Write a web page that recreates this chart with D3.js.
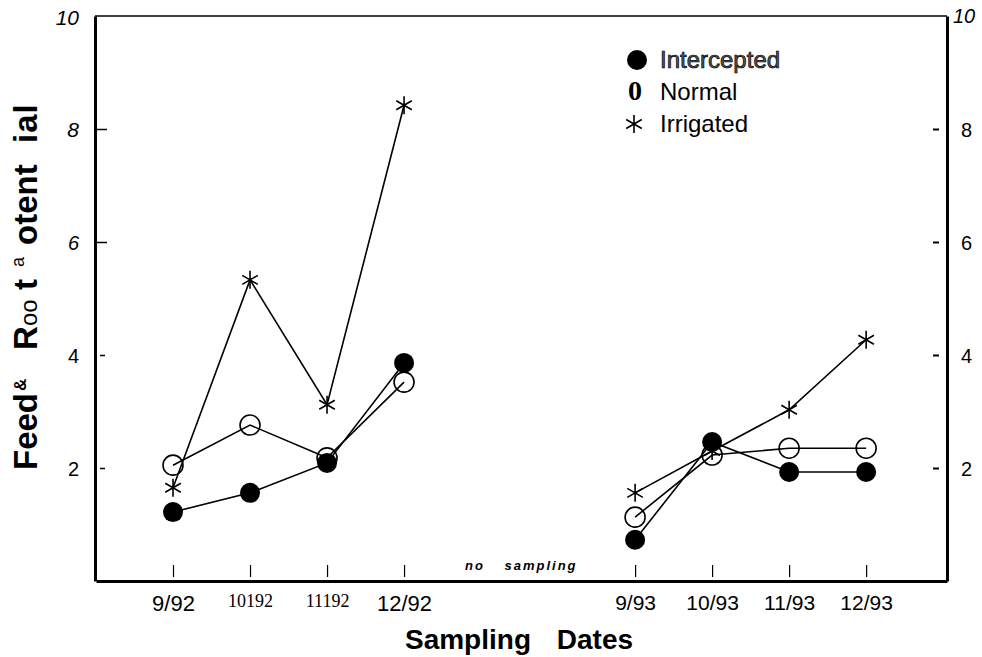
<!DOCTYPE html>
<html>
<head>
<meta charset="utf-8">
<script src="https://cdn.jsdelivr.net/npm/d3@7"></script>
<style>
  body { margin: 0; background: #fff; }
  svg { display: block; font-family: "Liberation Sans", Arial, sans-serif; }
</style>
</head>
<body>
<div id="chart"></div>
<script>
// sampling dates and their slot on the time axis (3 empty slots = no sampling)
var dateLabels = ["9/92", "10192", "11192", "12/92", "9/93", "10/93", "11/93", "12/93"];
var dateSlots = [0, 1, 2, 3, 6, 7, 8, 9];

// feeder root potential per treatment
var intercepted = [1.22, 1.56, 2.09, 3.86, 0.73, 2.46, 1.93, 1.93];
var normal = [2.05, 2.76, 2.18, 3.52, 1.13, 2.23, 2.35, 2.35];
var irrigated = [1.65, 5.33, 3.12, 8.42, 1.56, 2.30, 3.03, 4.27];

var yTicks = [2, 4, 6, 8, 10];
var seasons = [[0, 1, 2, 3], [4, 5, 6, 7]];

var width = 982, height = 657;
var plotLeft = 95, plotRight = 947, plotTop = 16, plotBottom = 581;

var svg = d3.select("#chart")
  .append("svg")
  .attr("width", width)
  .attr("height", height);

var x = d3.scaleLinear().domain([-1, 10.05]).range([plotLeft + 1, plotRight]);
var y = d3.scaleLinear().domain([0, 10]).range([plotBottom, plotTop]);

// top frame line
svg.append("line")
  .attr("x1", plotLeft).attr("x2", plotRight)
  .attr("y1", plotTop).attr("y2", plotTop)
  .attr("stroke", "#000").attr("stroke-width", 1.5);

// left axis, ticks pointing inward
var leftAxis = svg.append("g")
  .attr("transform", "translate(" + plotLeft + ",0)")
  .call(d3.axisLeft(y).tickValues(yTicks).tickSizeInner(-12).tickSizeOuter(0).tickPadding(16));
leftAxis.select(".domain").attr("stroke-width", 3);
leftAxis.selectAll(".tick line").attr("stroke-width", 1.5)
  .attr("x1", function(d) { return d >= 6 ? 0 : 5; })
  .attr("x2", function(d) { return d >= 6 ? 12 : 10; })
  .attr("display", function(d) { return d == 10 ? "none" : null; });
leftAxis.selectAll(".tick text")
  .attr("font-size", function(d) { return d >= 8 ? 21 : 20; })
  .attr("font-family", "Liberation Sans, Arial, sans-serif")
  .style("font-style", function(d) { return d >= 6 ? "italic" : "normal"; })
  .attr("dy", function(d) { return d == 10 ? "0.4em" : "0.35em"; });

// right axis
var rightAxis = svg.append("g")
  .attr("transform", "translate(" + plotRight + ",0)")
  .call(d3.axisRight(y).tickValues(yTicks).tickSizeInner(-14).tickSizeOuter(0).tickPadding(14));
rightAxis.select(".domain").attr("stroke-width", 3);
rightAxis.selectAll(".tick line").attr("stroke-width", 2)
  .attr("x1", -8)
  .attr("display", function(d) { return d == 10 ? "none" : null; });
rightAxis.selectAll(".tick text")
  .attr("font-size", 20)
  .attr("font-family", "Liberation Sans, Arial, sans-serif")
  .attr("x", function(d) { return d == 10 ? 6 : 14; })
  .style("font-style", function(d) { return d == 10 ? "italic" : "normal"; })
  .attr("dy", function(d) { return d == 10 ? "0.3em" : "0.35em"; });

// bottom axis with sampling dates
var bottomAxis = svg.append("g")
  .attr("transform", "translate(0," + plotBottom + ")")
  .call(d3.axisBottom(x).tickValues(dateSlots).tickSizeInner(-16).tickSizeOuter(0).tickPadding(8)
    .tickFormat(function(d, i) { return dateLabels[i]; }));
bottomAxis.select(".domain").attr("stroke-width", 3);
bottomAxis.selectAll(".tick line").attr("y1", -4).attr("stroke-width", 1.2);
bottomAxis.selectAll(".tick text")
  .attr("font-size", function(d, i) { return dateLabels[i].indexOf("/") < 0 ? 18 : (i < 4 ? 22 : 21); })
  .attr("font-family", function(d, i) {
    return dateLabels[i].indexOf("/") < 0 ? "Liberation Serif, Times New Roman, serif" : "Liberation Sans, Arial, sans-serif";
  })
  .attr("dy", "1em");

svg.append("text")
  .attr("x", 465).attr("y", 570)
  .attr("font-size", 13).attr("font-weight", "bold").style("font-style", "italic")
  .attr("letter-spacing", 2).attr("word-spacing", 14)
  .text("no sampling");

// axis titles
svg.append("text")
  .attr("x", 519).attr("y", 649)
  .attr("text-anchor", "middle")
  .attr("font-size", 28).attr("font-weight", "bold")
  .attr("word-spacing", 18)
  .text("Sampling Dates");

var yTitle = svg.append("text")
  .attr("transform", "translate(37,470) rotate(-90)")
  .attr("font-weight", "bold")
  .attr("font-size", 33);
yTitle.append("tspan").attr("x", 0).text("Feed");
yTitle.append("tspan").attr("x", 79).attr("dy", -11).attr("font-size", 17).text("&");
yTitle.append("tspan").attr("x", 120).attr("dy", 11).text("R");
yTitle.append("tspan").attr("x", 144).attr("font-size", 24).attr("font-weight", "normal").text("oo");
yTitle.append("tspan").attr("x", 180).text("t");
yTitle.append("tspan").attr("x", 203).attr("dy", -13).attr("font-size", 18).attr("font-weight", "normal").text("a");
yTitle.append("tspan").attr("x", 225).attr("dy", 13).text("otent");
yTitle.append("tspan").attr("x", 327).attr("letter-spacing", 1).text("ial");

// lines per season
var line = d3.line()
  .x(function(d) { return x(d.slot); })
  .y(function(d) { return y(d.value); });

var series = [
  { name: "Intercepted", values: intercepted, marker: "filled" },
  { name: "Normal", values: normal, marker: "open" },
  { name: "Irrigated", values: irrigated, marker: "star" }
];

series.forEach(function(s) {
  seasons.forEach(function(idx) {
    svg.append("path")
      .datum(idx.map(function(i) { return { slot: dateSlots[i], value: s.values[i] }; }))
      .attr("d", line)
      .attr("fill", "none")
      .attr("stroke", "#000")
      .attr("stroke-width", 1.6);
  });
});

var starPath = function(r) {
  var a = r * Math.cos(Math.PI / 6), b = r * Math.sin(Math.PI / 6);
  return "M0," + (-r) + "V" + r +
    "M" + (-a) + "," + (-b) + "L" + a + "," + b +
    "M" + (-a) + "," + b + "L" + a + "," + (-b);
};

function drawMarker(g, kind) {
  if (kind == "filled") {
    g.append("circle").attr("r", 10).attr("fill", "#000");
  } else if (kind == "open") {
    g.append("circle").attr("r", 10).attr("fill", "none").attr("stroke", "#000").attr("stroke-width", 1.6);
  } else {
    g.append("path").attr("d", starPath(9)).attr("stroke", "#000").attr("stroke-width", 1.6).attr("fill", "none");
  }
}

series.forEach(function(s) {
  s.values.forEach(function(v, i) {
    var g = svg.append("g")
      .attr("transform", "translate(" + x(dateSlots[i]) + "," + y(v) + ")");
    drawMarker(g, s.marker);
  });
});

// legend
var legend = svg.append("g").attr("font-size", 24);
legend.append("circle").attr("cx", 637).attr("cy", 60).attr("r", 10).attr("fill", "#000");
legend.append("text").attr("x", 660).attr("y", 68)
  .attr("fill", "#555").attr("stroke", "#000").attr("stroke-width", 0.7)
  .text("Intercepted");
legend.append("text").attr("x", 628).attr("y", 100)
  .attr("font-family", "Liberation Serif, Times New Roman, serif")
  .attr("font-weight", "bold").attr("font-size", 28)
  .text("0");
legend.append("text").attr("x", 660).attr("y", 100).text("Normal");
var lg = legend.append("g").attr("transform", "translate(634,124)");
drawMarker(lg, "star");
legend.append("text").attr("x", 660).attr("y", 132).text("Irrigated");
</script>
</body>
</html>
